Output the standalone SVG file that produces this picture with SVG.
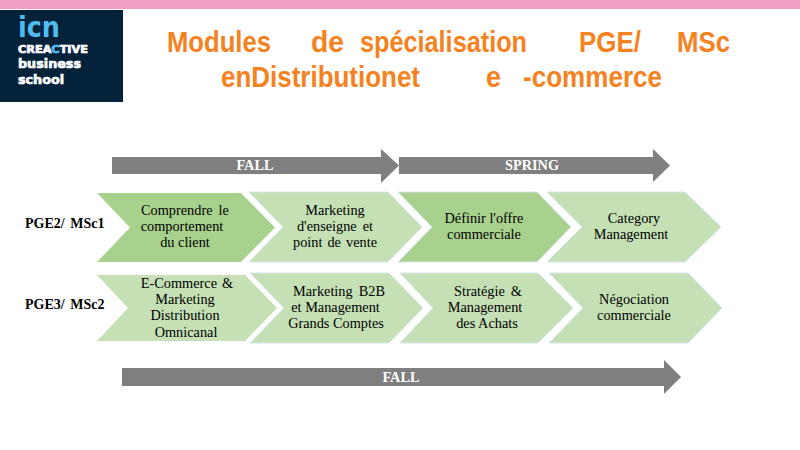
<svg xmlns="http://www.w3.org/2000/svg" width="800" height="450" viewBox="0 0 800 450">
<style>
.t{font-family:"Liberation Sans",Arial,sans-serif;font-weight:bold;font-size:30px;fill:#f58220}
.l{font-family:"Liberation Serif","Times New Roman",serif;font-size:14.3px;fill:#000;text-anchor:middle}
.h{font-family:"Liberation Serif","Times New Roman",serif;font-size:14px;font-weight:bold;fill:#000}
.a{font-family:"Liberation Serif","Times New Roman",serif;font-size:14.300px;font-weight:bold;fill:#fff;text-anchor:middle}
.ar{fill:#7f7f7f}
.d{fill:#a9d18e}
.p{fill:#c5e0b4}
.s{stroke:#d6e4f0;stroke-width:1}
.w{font-family:"DejaVu Sans",sans-serif;font-weight:bold;fill:#fff;stroke:#fff;stroke-width:.7}
</style>
<rect width="800" height="9" fill="#f29ec4"/>
<g id="logo">
<rect x="0" y="10" width="123" height="92" fill="#04233b"/>
<text x="18" y="37" font-family="DejaVu Sans,sans-serif" font-weight="bold" font-size="28" fill="#4fbdf0" textLength="42" lengthAdjust="spacingAndGlyphs">icn</text>
<text class="w" x="18" y="53" font-size="10" textLength="70" lengthAdjust="spacingAndGlyphs">CREA<tspan fill="#4fbdf0" stroke="#4fbdf0">C</tspan>TIVE</text>
<text class="w" x="18" y="68" font-size="13" textLength="63" lengthAdjust="spacingAndGlyphs">business</text>
<text class="w" x="18" y="84" font-size="13" textLength="46" lengthAdjust="spacingAndGlyphs">school</text>
</g>
<g id="title">
<text class="t" x="167" y="52" textLength="104" lengthAdjust="spacingAndGlyphs">Modules</text>
<text class="t" x="311" y="52" textLength="33" lengthAdjust="spacingAndGlyphs">de</text>
<text class="t" x="360" y="52" textLength="167" lengthAdjust="spacingAndGlyphs">spécialisation</text>
<text class="t" x="579" y="52" textLength="62" lengthAdjust="spacingAndGlyphs">PGE/</text>
<text class="t" x="677" y="52" textLength="53" lengthAdjust="spacingAndGlyphs">MSc</text>
<text class="t" x="221" y="87" textLength="199" lengthAdjust="spacingAndGlyphs">enDistributionet</text>
<text class="t" x="486" y="87" textLength="15" lengthAdjust="spacingAndGlyphs">e</text>
<text class="t" x="523" y="87" textLength="139" lengthAdjust="spacingAndGlyphs">-commerce</text>
</g>
<g id="connectors">
<polygon class="ar" points="112,157 381,157 381,149 399,165.500 381,183 381,174 112,174"/>
<polygon class="ar" points="399,157 653,157 653,149 670,165.500 653,182 653,174 399,174"/>
<polygon class="ar" points="122,368 664,368 664,360 681,377 664,394 664,386 122,386"/>
</g>
<g id="arrow-labels">
<text class="a" x="255" y="170">FALL</text>
<text class="a" x="532" y="170">SPRING</text>
<text class="a" x="401" y="382">FALL</text>
</g>
<g id="row-labels">
<text class="h" x="25" y="228" word-spacing="2">PGE2/ MSc1</text>
<text class="h" x="25" y="309" word-spacing="2">PGE3/ MSc2</text>
</g>
<g id="n1"><polygon class="d" points="97,193 241,193 275,227.500 241,262 97,262 130,227.500"/>
<text class="l" x="185" y="215" word-spacing="2.500">Comprendre le</text><text class="l" x="182" y="231">comportement</text><text class="l" x="185" y="247">du client</text></g>
<g id="n2"><polygon class="p s" points="249,192 388,192 422,227 388,262 249,262 283,227"/>
<text class="l" x="335" y="215">Marketing</text><text class="l" x="335" y="231" word-spacing="2.500">d'enseigne et</text><text class="l" x="335" y="247" word-spacing="1.500">point de vente</text></g>
<g id="n3"><polygon class="d s" points="398,192 537,192 571,227 537,262 398,262 432,227"/>
<text class="l" x="484" y="223">Définir l'offre</text><text class="l" x="484" y="239">commerciale</text></g>
<g id="n4"><polygon class="p s" points="547,192 685,192 721,227 685,262 547,262 582,227"/>
<text class="l" x="634" y="223">Category</text><text class="l" x="631" y="239">Management</text></g>
<g id="n5"><polygon class="p" points="97,275 245,275 277,308 245,341 97,341 128,308"/>
<text class="l" x="187" y="288" word-spacing="1.500">E-Commerce &amp;</text><text class="l" x="185" y="304">Marketing</text><text class="l" x="185" y="320">Distribution</text><text class="l" x="186" y="337">Omnicanal</text></g>
<g id="n6"><polygon class="p s" points="250,273 389,273 423,308 389,343 250,343 284,308"/>
<text class="l" x="339" y="296" word-spacing="2.500">Marketing B2B</text><text class="l" x="335.500" y="312">et Management</text><text class="l" x="336" y="328">Grands Comptes</text></g>
<g id="n7"><polygon class="p s" points="400,273 538,273 573,308 538,343 400,343 433,308"/>
<text class="l" x="488" y="296" word-spacing="2.500">Stratégie &amp;</text><text class="l" x="485" y="312">Management</text><text class="l" x="487" y="328">des Achats</text></g>
<g id="n8"><polygon class="p s" points="549,273 688,273 722,308 688,343 549,343 583,308"/>
<text class="l" x="634" y="304">Négociation</text><text class="l" x="634" y="320">commerciale</text></g>
</svg>
